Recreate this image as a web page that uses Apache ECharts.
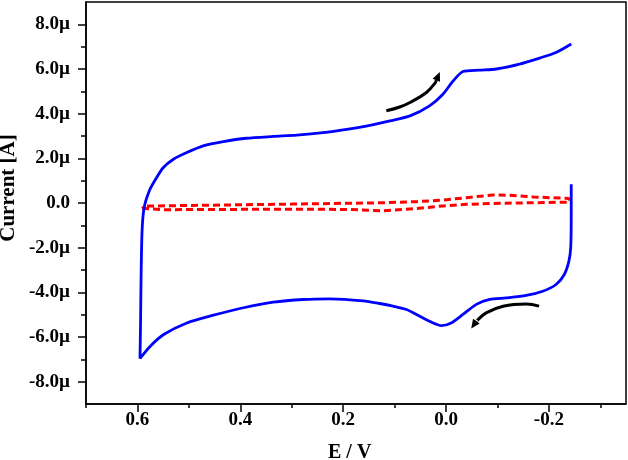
<!DOCTYPE html>
<html><head><meta charset="utf-8">
<script src="https://cdn.jsdelivr.net/npm/echarts@6.0.0/dist/echarts.min.js"></script>
<style>html,body{margin:0;padding:0;background:#fff}#c{width:628px;height:460px}</style>
</head><body><div id="c"></div>
<script>
// Potential (V) and current (µA) of the blue CV trace
const blueE = [-0.2435,-0.2435,-0.2425,-0.239,-0.230,-0.214,-0.188,-0.156,-0.117,-0.085,-0.059,-0.033,-0.010,0.009,0.025,0.051,0.077,0.103,0.129,0.161,0.226,0.278,0.336,0.394,0.452,0.504,0.549,0.575,0.595,0.594,0.593,0.591,0.587,0.577,0.565,0.550,0.530,0.504,0.472,0.433,0.388,0.336,0.290,0.239,0.193,0.148,0.109,0.070,0.032,0.006,-0.014,-0.033,-0.065,-0.098,-0.143,-0.182,-0.214,-0.2435];
const blueI = [0.84,-0.51,-2.0,-2.6,-3.2,-3.65,-3.95,-4.14,-4.25,-4.32,-4.54,-4.99,-5.37,-5.49,-5.37,-5.07,-4.77,-4.62,-4.50,-4.38,-4.29,-4.32,-4.44,-4.69,-5.02,-5.37,-5.89,-6.41,-6.96,-5.5,-3.5,-1.26,-0.21,0.54,1.05,1.58,1.96,2.26,2.56,2.75,2.90,2.98,3.04,3.15,3.30,3.48,3.68,3.90,4.35,4.87,5.47,5.89,5.95,6.0,6.22,6.49,6.74,7.12];
// Red dashed trace
const redE = [0.591,0.55,0.45,0.35,0.25,0.187,0.122,0.057,0.006,-0.040,-0.107,-0.169,-0.240,-0.240,-0.234,-0.169,-0.124,-0.091,-0.040,0.006,0.057,0.122,0.187,0.30,0.40,0.50,0.585,0.591];
const redI = [-0.24,-0.30,-0.29,-0.28,-0.28,-0.29,-0.35,-0.25,-0.13,-0.06,-0.01,0.01,0.04,0.19,0.21,0.27,0.35,0.36,0.24,0.13,0.06,0.01,-0.01,-0.05,-0.08,-0.11,-0.14,-0.24];
// Annotation arrows
const arrowUpE = [0.116,0.090,0.070,0.038,0.021,0.012];
const arrowUpI = [4.13,4.30,4.50,4.95,5.38,5.87];
const arrowDownE = [-0.181,-0.156,-0.111,-0.078,-0.059,-0.049];
const arrowDownI = [-4.62,-4.52,-4.62,-4.92,-5.29,-5.62];
// Axis ticks
const xMajor = [0.6,0.4,0.2,0.0,-0.2];
const xMinor = [0.7,0.5,0.3,0.1,-0.1,-0.3];
const yMajor = [-8,-6,-4,-2,0,2,4,6,8];
const yMinor = [-7,-5,-3,-1,1,3,5,7];

const font = 'Liberation Serif';
const chart = echarts.init(document.getElementById('c'));

function arrowSeries(E, I) {
  return {
    type: 'custom', xAxisIndex: 0, yAxisIndex: 0, z: 5, silent: true,
    data: [[E[0], I[0]]],
    renderItem: function (params, api) {
      const pts = E.map((e, i) => api.coord([e, I[i]]));
      const n = pts.length;
      const p1 = pts[n - 2], p2 = pts[n - 1];
      const ang = Math.atan2(p2[1] - p1[1], p2[0] - p1[0]);
      const L = 9, W = 4;
      const base = [p2[0] - Math.cos(ang) * L, p2[1] - Math.sin(ang) * L];
      const left = [base[0] + Math.sin(ang) * W, base[1] - Math.cos(ang) * W];
      const right = [base[0] - Math.sin(ang) * W, base[1] + Math.cos(ang) * W];
      const linePts = pts.slice(0, n - 1).concat([base]);
      return {
        type: 'group', children: [
          { type: 'polyline', shape: { points: linePts, smooth: 0.4 }, style: { stroke: '#000', lineWidth: 3, fill: null } },
          { type: 'polygon', shape: { points: [p2, left, right] }, style: { fill: '#000' } }
        ]
      };
    }
  };
}

const xCommon = { type: 'value', min: -0.35, max: 0.7, inverse: true, splitLine: { show: false } };
const yCommon = { type: 'value', min: -9, max: 9, splitLine: { show: false } };

chart.setOption({
  animation: false,
  grid: { left: 86, right: 2, top: 2, bottom: 56, show: true, borderColor: '#000', borderWidth: 1.5 },
  xAxis: [
    Object.assign({}, xCommon, {
      position: 'bottom',
      axisLine: { show: true, onZero: false, lineStyle: { color: '#000', width: 1.5 } },
      axisTick: { show: true, length: 8, customValues: xMajor, lineStyle: { color: '#000', width: 1.5 } },
      axisLabel: { customValues: xMajor, margin: 7, color: '#000', fontFamily: font, fontWeight: 'bold', fontSize: 19,
        formatter: v => v.toFixed(1) }
    }),
    Object.assign({}, xCommon, {
      position: 'bottom',
      axisLine: { show: false, onZero: false },
      axisTick: { show: true, length: 4, customValues: xMinor, lineStyle: { color: '#000', width: 1.5 } },
      axisLabel: { show: false }
    })
  ],
  yAxis: [
    Object.assign({}, yCommon, {
      position: 'left',
      axisLine: { show: true, onZero: false, lineStyle: { color: '#000', width: 1.5 } },
      axisTick: { show: true, length: 8, customValues: yMajor, lineStyle: { color: '#000', width: 1.5 } },
      axisLabel: { customValues: yMajor, margin: 16, color: '#000', fontFamily: font, fontWeight: 'bold', fontSize: 19,
        formatter: v => v === 0 ? '0.0' : v.toFixed(1) + 'µ' }
    }),
    Object.assign({}, yCommon, {
      position: 'left', offset: 0,
      axisLine: { show: false, onZero: false },
      axisTick: { show: true, length: 5, customValues: yMinor, lineStyle: { color: '#000', width: 1.5 } },
      axisLabel: { show: false }
    })
  ],
  graphic: [
    { type: 'text', left: 328, top: 443, style: { text: 'E / V', font: 'bold 20px "Liberation Serif"', fill: '#000' } },
    { type: 'text', x: 9, y: 188, rotation: Math.PI / 2, style: { text: 'Current [A]', font: 'bold 21px "Liberation Serif"', fill: '#000', align: 'center', verticalAlign: 'middle' } }
  ],
  series: [
    { type: 'line', xAxisIndex: 0, yAxisIndex: 0, showSymbol: false, symbol: 'none', z: 2,
      data: redE.map((e, i) => [e, redI[i]]),
      lineStyle: { color: '#ff0000', width: 3, type: [7, 4] } },
    { type: 'line', xAxisIndex: 0, yAxisIndex: 0, showSymbol: false, symbol: 'none', z: 3, smooth: 0.25,
      data: blueE.map((e, i) => [e, blueI[i]]),
      lineStyle: { color: '#0000ff', width: 2.8 } },
    arrowSeries(arrowUpE, arrowUpI),
    arrowSeries(arrowDownE, arrowDownI)
  ]
});
</script>
</body></html>
